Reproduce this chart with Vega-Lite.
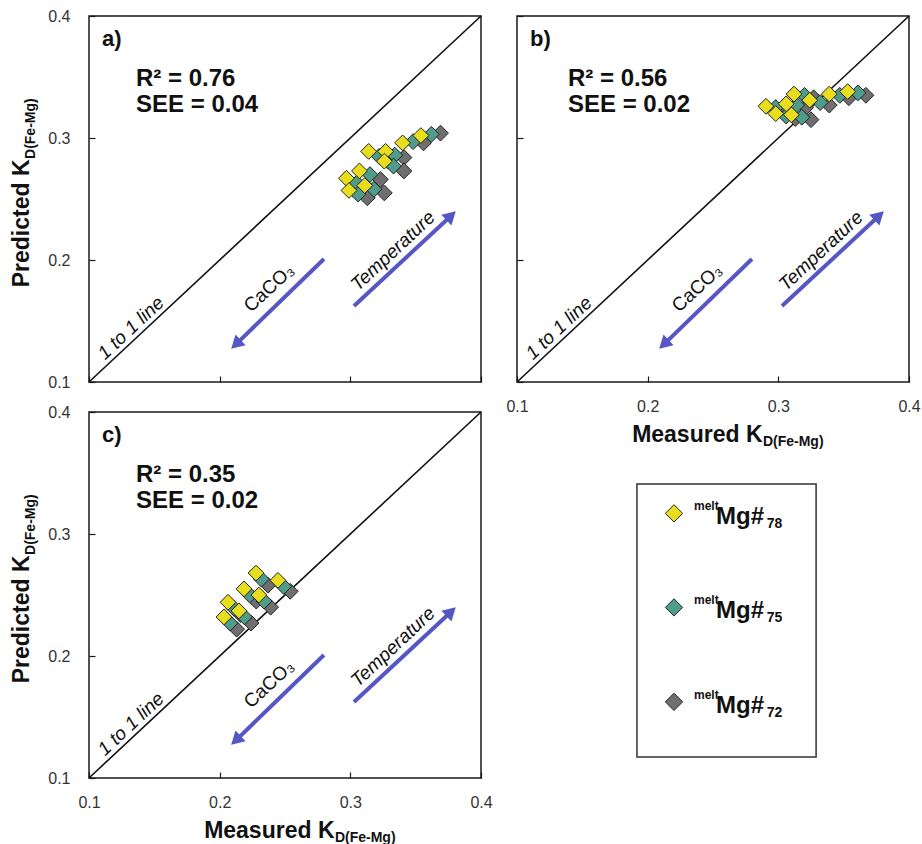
{
  "$schema": "https://vega.github.io/schema/vega-lite/v6.json",
  "background": "white",
  "padding": {"left": 9, "top": 7, "right": 0, "bottom": 0},
  "config": {
    "font": "Liberation Sans",
    "view": {"stroke": "#1a1a1a", "strokeWidth": 1.5},
    "axis": {
      "grid": false, "domain": false, "ticks": true, "tickSize": -6, "tickColor": "#1a1a1a", "tickWidth": 1.2,
      "labelFont": "Liberation Sans", "labelFontSize": 16, "labelColor": "#333", "labelFlush": false, "labelOverlap": false,
      "titleFont": "Liberation Sans", "titleFontSize": 23, "titleFontWeight": "bold", "titleColor": "#111"
    }
  },
  "datasets": {
    "diag": [{"x": 0.1, "y": 0.1, "x2": 0.4, "y2": 0.4}],
    "arrows": [
      {"x": 0.2798, "y": 0.2008, "x2": 0.2136, "y2": 0.1321},
      {"x": 0.3028, "y": 0.1623, "x2": 0.3759, "y2": 0.2351}
    ],
    "heads": [
      {"dir": "down", "x": 0.2136, "y": 0.1321},
      {"dir": "up", "x": 0.3759, "y": 0.2351}
    ],
    "pts": [
      {"panel": "a", "s": "72", "x": 0.369, "y": 0.304},
      {"panel": "a", "s": "72", "x": 0.356, "y": 0.296},
      {"panel": "a", "s": "72", "x": 0.341, "y": 0.284},
      {"panel": "a", "s": "72", "x": 0.329, "y": 0.281},
      {"panel": "a", "s": "72", "x": 0.341, "y": 0.273},
      {"panel": "a", "s": "72", "x": 0.323, "y": 0.266},
      {"panel": "a", "s": "72", "x": 0.312, "y": 0.260},
      {"panel": "a", "s": "72", "x": 0.326, "y": 0.255},
      {"panel": "a", "s": "72", "x": 0.313, "y": 0.251},
      {"panel": "a", "s": "75", "x": 0.362, "y": 0.303},
      {"panel": "a", "s": "75", "x": 0.348, "y": 0.297},
      {"panel": "a", "s": "75", "x": 0.334, "y": 0.286},
      {"panel": "a", "s": "75", "x": 0.322, "y": 0.285},
      {"panel": "a", "s": "75", "x": 0.333, "y": 0.277},
      {"panel": "a", "s": "75", "x": 0.315, "y": 0.270},
      {"panel": "a", "s": "75", "x": 0.305, "y": 0.263},
      {"panel": "a", "s": "75", "x": 0.318, "y": 0.258},
      {"panel": "a", "s": "75", "x": 0.306, "y": 0.254},
      {"panel": "a", "s": "78", "x": 0.354, "y": 0.302},
      {"panel": "a", "s": "78", "x": 0.340, "y": 0.296},
      {"panel": "a", "s": "78", "x": 0.327, "y": 0.289},
      {"panel": "a", "s": "78", "x": 0.314, "y": 0.289},
      {"panel": "a", "s": "78", "x": 0.326, "y": 0.281},
      {"panel": "a", "s": "78", "x": 0.307, "y": 0.273},
      {"panel": "a", "s": "78", "x": 0.297, "y": 0.267},
      {"panel": "a", "s": "78", "x": 0.311, "y": 0.261},
      {"panel": "a", "s": "78", "x": 0.299, "y": 0.257},
      {"panel": "b", "s": "72", "x": 0.305, "y": 0.323},
      {"panel": "b", "s": "72", "x": 0.313, "y": 0.316},
      {"panel": "b", "s": "72", "x": 0.321, "y": 0.325},
      {"panel": "b", "s": "72", "x": 0.327, "y": 0.333},
      {"panel": "b", "s": "72", "x": 0.325, "y": 0.315},
      {"panel": "b", "s": "72", "x": 0.339, "y": 0.327},
      {"panel": "b", "s": "72", "x": 0.354, "y": 0.333},
      {"panel": "b", "s": "72", "x": 0.367, "y": 0.335},
      {"panel": "b", "s": "75", "x": 0.298, "y": 0.325},
      {"panel": "b", "s": "75", "x": 0.306, "y": 0.318},
      {"panel": "b", "s": "75", "x": 0.314, "y": 0.327},
      {"panel": "b", "s": "75", "x": 0.320, "y": 0.335},
      {"panel": "b", "s": "75", "x": 0.318, "y": 0.317},
      {"panel": "b", "s": "75", "x": 0.332, "y": 0.329},
      {"panel": "b", "s": "75", "x": 0.347, "y": 0.335},
      {"panel": "b", "s": "75", "x": 0.361, "y": 0.337},
      {"panel": "b", "s": "78", "x": 0.2905, "y": 0.326},
      {"panel": "b", "s": "78", "x": 0.298, "y": 0.320},
      {"panel": "b", "s": "78", "x": 0.306, "y": 0.328},
      {"panel": "b", "s": "78", "x": 0.312, "y": 0.336},
      {"panel": "b", "s": "78", "x": 0.310, "y": 0.319},
      {"panel": "b", "s": "78", "x": 0.324, "y": 0.331},
      {"panel": "b", "s": "78", "x": 0.339, "y": 0.336},
      {"panel": "b", "s": "78", "x": 0.353, "y": 0.338},
      {"panel": "c", "s": "72", "x": 0.237, "y": 0.258},
      {"panel": "c", "s": "72", "x": 0.254, "y": 0.253},
      {"panel": "c", "s": "72", "x": 0.228, "y": 0.245},
      {"panel": "c", "s": "72", "x": 0.239, "y": 0.240},
      {"panel": "c", "s": "72", "x": 0.216, "y": 0.234},
      {"panel": "c", "s": "72", "x": 0.224, "y": 0.227},
      {"panel": "c", "s": "72", "x": 0.213, "y": 0.222},
      {"panel": "c", "s": "75", "x": 0.232, "y": 0.263},
      {"panel": "c", "s": "75", "x": 0.249, "y": 0.257},
      {"panel": "c", "s": "75", "x": 0.223, "y": 0.250},
      {"panel": "c", "s": "75", "x": 0.234, "y": 0.245},
      {"panel": "c", "s": "75", "x": 0.211, "y": 0.239},
      {"panel": "c", "s": "75", "x": 0.219, "y": 0.232},
      {"panel": "c", "s": "75", "x": 0.208, "y": 0.227},
      {"panel": "c", "s": "78", "x": 0.2278, "y": 0.268},
      {"panel": "c", "s": "78", "x": 0.2446, "y": 0.262},
      {"panel": "c", "s": "78", "x": 0.2186, "y": 0.255},
      {"panel": "c", "s": "78", "x": 0.230, "y": 0.250},
      {"panel": "c", "s": "78", "x": 0.2064, "y": 0.244},
      {"panel": "c", "s": "78", "x": 0.2148, "y": 0.237},
      {"panel": "c", "s": "78", "x": 0.2033, "y": 0.232}
    ],
    "tags": [
      {"panel": "a", "text": "a)", "x": 0.110, "y": 0.381},
      {"panel": "b", "text": "b)", "x": 0.110, "y": 0.381},
      {"panel": "c", "text": "c)", "x": 0.110, "y": 0.381}
    ],
    "stats": [
      {"panel": "a", "text": "R² = 0.76", "x": 0.136, "y": 0.348},
      {"panel": "a", "text": "SEE = 0.04", "x": 0.136, "y": 0.327},
      {"panel": "b", "text": "R² = 0.56", "x": 0.139, "y": 0.348},
      {"panel": "b", "text": "SEE = 0.02", "x": 0.139, "y": 0.327},
      {"panel": "c", "text": "R² = 0.35", "x": 0.136, "y": 0.348},
      {"panel": "c", "text": "SEE = 0.02", "x": 0.136, "y": 0.327}
    ],
    "notes": [
      {"kind": "line", "text": "1 to 1 line", "x": 0.1321, "y": 0.1443},
      {"kind": "caco", "text": "CaCO₃", "x": 0.2377, "y": 0.177},
      {"kind": "temp", "text": "Temperature", "x": 0.3326, "y": 0.2074}
    ],
    "ysub": [{"x": 0.1, "y": 0.2828, "text": "D(Fe-Mg)"}],
    "xsub": [{"x": 0.2882, "y": 0.1, "text": "D(Fe-Mg)"}],
    "lbox": [{"x": 0.306, "x2": 0.763, "y": 0.0575, "y2": 0.803}],
    "legmarks": [
      {"s": "78", "x": 0.4005, "y": 0.723},
      {"s": "75", "x": 0.4005, "y": 0.466},
      {"s": "72", "x": 0.4005, "y": 0.208}
    ],
    "legtext": [
      {"part": "sup", "text": "melt", "x": 0.4515, "y": 0.723},
      {"part": "main", "text": "Mg#", "x": 0.5077, "y": 0.723},
      {"part": "sub", "text": "78", "x": 0.637, "y": 0.723},
      {"part": "sup", "text": "melt", "x": 0.4515, "y": 0.466},
      {"part": "main", "text": "Mg#", "x": 0.5077, "y": 0.466},
      {"part": "sub", "text": "75", "x": 0.637, "y": 0.466},
      {"part": "sup", "text": "melt", "x": 0.4515, "y": 0.208},
      {"part": "main", "text": "Mg#", "x": 0.5077, "y": 0.208},
      {"part": "sub", "text": "72", "x": 0.637, "y": 0.208}
    ]
  },
  "columns": 2,
  "spacing": {"row": 30, "column": 36},
  "bounds": "flush",
  "concat": [
    {
      "width": 392, "height": 366,
      "encoding": {
        "x": {"field": "x", "type": "quantitative", "scale": {"domain": [0.1, 0.4], "nice": false, "zero": false},
              "axis": {"values": [0.1, 0.2, 0.3, 0.4], "labels": false, "title": null}},
        "y": {"field": "y", "type": "quantitative", "scale": {"domain": [0.1, 0.4], "nice": false, "zero": false},
              "axis": {"values": [0.1, 0.2, 0.3, 0.4], "format": ".1f", "labelPadding": 25, "title": "Predicted K", "titleX": -61, "titleY": 143, "titleAlign": "right", "titleBaseline": "alphabetic", "titleAngle": 270}}
      },
      "layer": [
        {"data": {"name": "diag"}, "mark": {"type": "rule", "color": "#111", "strokeWidth": 1.6}, "encoding": {"x2": {"field": "x2"}, "y2": {"field": "y2"}}},
        {"data": {"name": "arrows"}, "mark": {"type": "rule", "color": "#5656C4", "strokeWidth": 4}, "encoding": {"x2": {"field": "x2"}, "y2": {"field": "y2"}}},
        {"data": {"name": "heads"}, "transform": [{"filter": "datum.dir === 'down'"}], "mark": {"type": "point", "shape": "triangle", "filled": true, "size": 220, "angle": 227, "color": "#5656C4", "opacity": 1}},
        {"data": {"name": "heads"}, "transform": [{"filter": "datum.dir === 'up'"}], "mark": {"type": "point", "shape": "triangle", "filled": true, "size": 220, "angle": 47, "color": "#5656C4", "opacity": 1}},
        {"data": {"name": "pts"}, "transform": [{"filter": "datum.panel === 'a'"}], "mark": {"type": "point", "shape": "diamond", "filled": true, "size": 250, "stroke": "#222", "strokeWidth": 1, "opacity": 1},
         "encoding": {"fill": {"field": "s", "type": "nominal", "scale": {"domain": ["78", "75", "72"], "range": ["#E8DE1E", "#4F9C8C", "#6F6F6F"]}, "legend": null}}},
        {"data": {"name": "tags"}, "transform": [{"filter": "datum.panel === 'a'"}], "mark": {"type": "text", "fontSize": 22, "fontWeight": "bold", "align": "left", "baseline": "middle", "color": "#111"}, "encoding": {"text": {"field": "text"}}},
        {"data": {"name": "stats"}, "transform": [{"filter": "datum.panel === 'a'"}], "mark": {"type": "text", "fontSize": 24, "fontWeight": "bold", "align": "left", "baseline": "middle", "color": "#111"}, "encoding": {"text": {"field": "text"}}},
        {"data": {"name": "notes"}, "transform": [{"filter": "datum.kind === 'line'"}], "mark": {"type": "text", "fontSize": 19, "fontStyle": "italic", "angle": 317, "align": "center", "baseline": "middle", "color": "#111"}, "encoding": {"text": {"field": "text"}}},
        {"data": {"name": "notes"}, "transform": [{"filter": "datum.kind === 'caco'"}], "mark": {"type": "text", "fontSize": 19, "angle": 317, "align": "center", "baseline": "middle", "color": "#111"}, "encoding": {"text": {"field": "text"}}},
        {"data": {"name": "notes"}, "transform": [{"filter": "datum.kind === 'temp'"}], "mark": {"type": "text", "fontSize": 19, "fontStyle": "italic", "angle": 317, "align": "center", "baseline": "middle", "color": "#111"}, "encoding": {"text": {"field": "text"}}},
        {"data": {"name": "ysub"}, "mark": {"type": "text", "fontSize": 14, "fontWeight": "bold", "angle": 270, "align": "left", "baseline": "alphabetic", "dy": -54, "color": "#111"}, "encoding": {"text": {"field": "text"}}}
      ]
    },
    {
      "width": 392, "height": 366,
      "encoding": {
        "x": {"field": "x", "type": "quantitative", "scale": {"domain": [0.1, 0.4], "nice": false, "zero": false},
              "axis": {"values": [0.1, 0.2, 0.3, 0.4], "format": ".1f", "labelPadding": 22, "title": "Measured K", "titleX": 245, "titleY": 59, "titleAlign": "right", "titleBaseline": "alphabetic"}},
        "y": {"field": "y", "type": "quantitative", "scale": {"domain": [0.1, 0.4], "nice": false, "zero": false},
              "axis": {"values": [0.1, 0.2, 0.3, 0.4], "labels": false, "title": null}}
      },
      "layer": [
        {"data": {"name": "diag"}, "mark": {"type": "rule", "color": "#111", "strokeWidth": 1.6}, "encoding": {"x2": {"field": "x2"}, "y2": {"field": "y2"}}},
        {"data": {"name": "arrows"}, "mark": {"type": "rule", "color": "#5656C4", "strokeWidth": 4}, "encoding": {"x2": {"field": "x2"}, "y2": {"field": "y2"}}},
        {"data": {"name": "heads"}, "transform": [{"filter": "datum.dir === 'down'"}], "mark": {"type": "point", "shape": "triangle", "filled": true, "size": 220, "angle": 227, "color": "#5656C4", "opacity": 1}},
        {"data": {"name": "heads"}, "transform": [{"filter": "datum.dir === 'up'"}], "mark": {"type": "point", "shape": "triangle", "filled": true, "size": 220, "angle": 47, "color": "#5656C4", "opacity": 1}},
        {"data": {"name": "pts"}, "transform": [{"filter": "datum.panel === 'b'"}], "mark": {"type": "point", "shape": "diamond", "filled": true, "size": 250, "stroke": "#222", "strokeWidth": 1, "opacity": 1},
         "encoding": {"fill": {"field": "s", "type": "nominal", "scale": {"domain": ["78", "75", "72"], "range": ["#E8DE1E", "#4F9C8C", "#6F6F6F"]}, "legend": null}}},
        {"data": {"name": "tags"}, "transform": [{"filter": "datum.panel === 'b'"}], "mark": {"type": "text", "fontSize": 22, "fontWeight": "bold", "align": "left", "baseline": "middle", "color": "#111"}, "encoding": {"text": {"field": "text"}}},
        {"data": {"name": "stats"}, "transform": [{"filter": "datum.panel === 'b'"}], "mark": {"type": "text", "fontSize": 24, "fontWeight": "bold", "align": "left", "baseline": "middle", "color": "#111"}, "encoding": {"text": {"field": "text"}}},
        {"data": {"name": "notes"}, "transform": [{"filter": "datum.kind === 'line'"}], "mark": {"type": "text", "fontSize": 19, "fontStyle": "italic", "angle": 317, "align": "center", "baseline": "middle", "color": "#111"}, "encoding": {"text": {"field": "text"}}},
        {"data": {"name": "notes"}, "transform": [{"filter": "datum.kind === 'caco'"}], "mark": {"type": "text", "fontSize": 19, "angle": 317, "align": "center", "baseline": "middle", "color": "#111"}, "encoding": {"text": {"field": "text"}}},
        {"data": {"name": "notes"}, "transform": [{"filter": "datum.kind === 'temp'"}], "mark": {"type": "text", "fontSize": 19, "fontStyle": "italic", "angle": 317, "align": "center", "baseline": "middle", "color": "#111"}, "encoding": {"text": {"field": "text"}}},
        {"data": {"name": "xsub"}, "mark": {"type": "text", "fontSize": 14, "fontWeight": "bold", "align": "left", "baseline": "alphabetic", "dy": 64, "color": "#111"}, "encoding": {"text": {"field": "text"}}}
      ]
    },
    {
      "width": 392, "height": 366,
      "encoding": {
        "x": {"field": "x", "type": "quantitative", "scale": {"domain": [0.1, 0.4], "nice": false, "zero": false},
              "axis": {"values": [0.1, 0.2, 0.3, 0.4], "format": ".1f", "labelPadding": 22, "title": "Measured K", "titleX": 245, "titleY": 59, "titleAlign": "right", "titleBaseline": "alphabetic"}},
        "y": {"field": "y", "type": "quantitative", "scale": {"domain": [0.1, 0.4], "nice": false, "zero": false},
              "axis": {"values": [0.1, 0.2, 0.3, 0.4], "format": ".1f", "labelPadding": 25, "title": "Predicted K", "titleX": -61, "titleY": 143, "titleAlign": "right", "titleBaseline": "alphabetic", "titleAngle": 270}}
      },
      "layer": [
        {"data": {"name": "diag"}, "mark": {"type": "rule", "color": "#111", "strokeWidth": 1.6}, "encoding": {"x2": {"field": "x2"}, "y2": {"field": "y2"}}},
        {"data": {"name": "arrows"}, "mark": {"type": "rule", "color": "#5656C4", "strokeWidth": 4}, "encoding": {"x2": {"field": "x2"}, "y2": {"field": "y2"}}},
        {"data": {"name": "heads"}, "transform": [{"filter": "datum.dir === 'down'"}], "mark": {"type": "point", "shape": "triangle", "filled": true, "size": 220, "angle": 227, "color": "#5656C4", "opacity": 1}},
        {"data": {"name": "heads"}, "transform": [{"filter": "datum.dir === 'up'"}], "mark": {"type": "point", "shape": "triangle", "filled": true, "size": 220, "angle": 47, "color": "#5656C4", "opacity": 1}},
        {"data": {"name": "pts"}, "transform": [{"filter": "datum.panel === 'c'"}], "mark": {"type": "point", "shape": "diamond", "filled": true, "size": 250, "stroke": "#222", "strokeWidth": 1, "opacity": 1},
         "encoding": {"fill": {"field": "s", "type": "nominal", "scale": {"domain": ["78", "75", "72"], "range": ["#E8DE1E", "#4F9C8C", "#6F6F6F"]}, "legend": null}}},
        {"data": {"name": "tags"}, "transform": [{"filter": "datum.panel === 'c'"}], "mark": {"type": "text", "fontSize": 22, "fontWeight": "bold", "align": "left", "baseline": "middle", "color": "#111"}, "encoding": {"text": {"field": "text"}}},
        {"data": {"name": "stats"}, "transform": [{"filter": "datum.panel === 'c'"}], "mark": {"type": "text", "fontSize": 24, "fontWeight": "bold", "align": "left", "baseline": "middle", "color": "#111"}, "encoding": {"text": {"field": "text"}}},
        {"data": {"name": "notes"}, "transform": [{"filter": "datum.kind === 'line'"}], "mark": {"type": "text", "fontSize": 19, "fontStyle": "italic", "angle": 317, "align": "center", "baseline": "middle", "color": "#111"}, "encoding": {"text": {"field": "text"}}},
        {"data": {"name": "notes"}, "transform": [{"filter": "datum.kind === 'caco'"}], "mark": {"type": "text", "fontSize": 19, "angle": 317, "align": "center", "baseline": "middle", "color": "#111"}, "encoding": {"text": {"field": "text"}}},
        {"data": {"name": "notes"}, "transform": [{"filter": "datum.kind === 'temp'"}], "mark": {"type": "text", "fontSize": 19, "fontStyle": "italic", "angle": 317, "align": "center", "baseline": "middle", "color": "#111"}, "encoding": {"text": {"field": "text"}}},
        {"data": {"name": "ysub"}, "mark": {"type": "text", "fontSize": 14, "fontWeight": "bold", "angle": 270, "align": "left", "baseline": "alphabetic", "dy": -54, "color": "#111"}, "encoding": {"text": {"field": "text"}}},
        {"data": {"name": "xsub"}, "mark": {"type": "text", "fontSize": 14, "fontWeight": "bold", "align": "left", "baseline": "alphabetic", "dy": 64, "color": "#111"}, "encoding": {"text": {"field": "text"}}}
      ]
    },
    {
      "width": 392, "height": 366,
      "view": {"stroke": null},
      "encoding": {
        "x": {"field": "x", "type": "quantitative", "scale": {"domain": [0, 1], "nice": false, "zero": false}, "axis": null},
        "y": {"field": "y", "type": "quantitative", "scale": {"domain": [0, 1], "nice": false, "zero": false}, "axis": null}
      },
      "layer": [
        {"data": {"name": "lbox"}, "mark": {"type": "rect", "filled": false, "stroke": "#333", "strokeWidth": 1.5}, "encoding": {"x2": {"field": "x2"}, "y2": {"field": "y2"}}},
        {"data": {"name": "legmarks"}, "mark": {"type": "point", "shape": "diamond", "filled": true, "size": 300, "stroke": "#222", "strokeWidth": 1, "opacity": 1},
         "encoding": {"fill": {"field": "s", "type": "nominal", "scale": {"domain": ["78", "75", "72"], "range": ["#E8DE1E", "#4F9C8C", "#6F6F6F"]}, "legend": null}}},
        {"data": {"name": "legtext"}, "transform": [{"filter": "datum.part === 'sup'"}], "mark": {"type": "text", "fontSize": 12, "fontWeight": "bold", "align": "left", "baseline": "middle", "dy": -7, "color": "#111"}, "encoding": {"text": {"field": "text"}}},
        {"data": {"name": "legtext"}, "transform": [{"filter": "datum.part === 'main'"}], "mark": {"type": "text", "fontSize": 24, "fontWeight": "bold", "align": "left", "baseline": "alphabetic", "dy": 11, "color": "#111"}, "encoding": {"text": {"field": "text"}}},
        {"data": {"name": "legtext"}, "transform": [{"filter": "datum.part === 'sub'"}], "mark": {"type": "text", "fontSize": 14, "fontWeight": "bold", "align": "left", "baseline": "alphabetic", "dy": 15, "color": "#111"}, "encoding": {"text": {"field": "text"}}}
      ]
    }
  ]
}
